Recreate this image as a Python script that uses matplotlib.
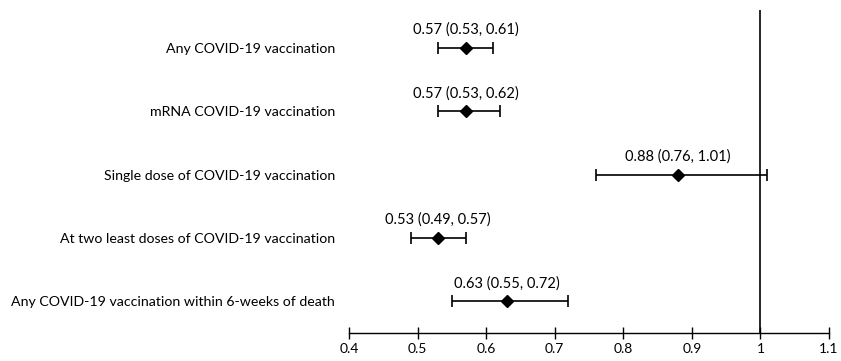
import matplotlib
matplotlib.use("Agg")
import matplotlib.pyplot as plt

plt.rcParams['font.family'] = ['Lato', 'DejaVu Sans']

labels = [
    "Any COVID-19 vaccination",
    "mRNA COVID-19 vaccination",
    "Single dose of COVID-19 vaccination",
    "At two least doses of COVID-19 vaccination",
    "Any COVID-19 vaccination within 6-weeks of death",
]
est = [0.57, 0.57, 0.88, 0.53, 0.63]
lower = [0.53, 0.53, 0.76, 0.49, 0.55]
upper = [0.61, 0.62, 1.01, 0.57, 0.72]
xticks = [0.4, 0.5, 0.6, 0.7, 0.8, 0.9, 1.0, 1.1]
xticklabels = ["0.4", "0.5", "0.6", "0.7", "0.8", "0.9", "1", "1.1"]

fig = plt.figure(figsize=(8.41, 3.61), dpi=100)
ax = fig.add_axes([349 / 841, 28 / 361, 480 / 841, 323 / 361])

ypos = list(range(len(labels), 0, -1))
xerr = [[e - l for e, l in zip(est, lower)], [u - e for e, u in zip(est, upper)]]
ax.errorbar(est, ypos, xerr=xerr, fmt='D', color='black', ms=6.5,
            elinewidth=1.2, capsize=4, capthick=1.2, zorder=3)

for e, l, u, y in zip(est, lower, upper, ypos):
    ax.text(e, y + 0.285, f"{e:.2f} ({l:.2f}, {u:.2f})", ha='center',
            va='center', fontsize=10.5)

ax.axvline(1.0, color='black', lw=1.2)

ax.set_xlim(0.4, 1.1)
ax.set_ylim(0.5, 5.6)
ax.set_xticks(xticks)
ax.set_xticklabels(xticklabels, fontsize=10)
ax.set_yticks(ypos)
ax.set_yticklabels(labels, fontsize=10.2)
ax.tick_params(axis='y', length=0, pad=10)
ax.tick_params(axis='x', direction='inout', length=8, width=1, pad=3)

for s in ['top', 'right', 'left']:
    ax.spines[s].set_visible(False)
ax.spines['bottom'].set_linewidth(1)

fig.savefig("out.png", dpi=100)
